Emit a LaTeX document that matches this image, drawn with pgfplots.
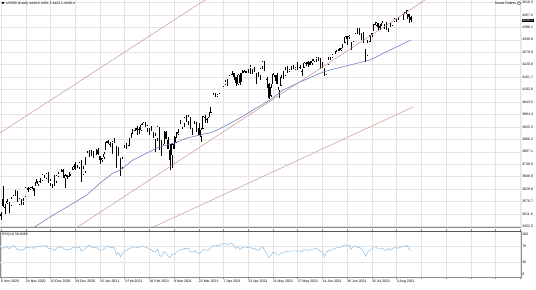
\documentclass[border=0pt]{standalone}
\usepackage{fontspec}
\setmainfont{Liberation Sans}
\usepackage{pgfplots}
\usepackage{pgfplotstable}
\pgfplotsset{compat=1.18}
\definecolor{gridc}{RGB}{228,228,228}
\definecolor{mac}{RGB}{105,120,190}
\definecolor{trendc}{RGB}{205,150,140}
\definecolor{rsic}{RGB}{150,195,230}
\definecolor{axc}{RGB}{140,140,140}
\newcommand\sm{\fontsize{3.5}{4}\selectfont}

\pgfplotstableread{
x o h l c r
0 3508 3521 3484 3509 62
1 3583 3646 3547 3550 66
2 3544 3557 3511 3545 65
3 3563 3581 3557 3572 68
4 3562 3569 3518 3537 63
5 3552 3593 3552 3585 67
6 3600 3628 3600 3627 71
7 3611 3624 3595 3610 67
8 3612 3619 3567 3568 60
9 3559 3586 3553 3582 62
10 3580 3582 3556 3557 59
11 3566 3589 3553 3577 61
12 3594 3642 3594 3635 67
13 3635 3638 3618 3629 66
14 3630 3641 3626 3636 67
15 3638 3644 3629 3638 67
16 3634 3637 3595 3621 64
17 3645 3678 3645 3662 68
18 3654 3670 3645 3669 69
19 3668 3682 3657 3666 68
20 3670 3699 3670 3699 71
21 3694 3698 3684 3692 70
22 3683 3708 3678 3702 71
23 3705 3712 3660 3673 64
24 3659 3678 3645 3668 63
25 3656 3665 3634 3663 62
26 3675 3698 3645 3647 59
27 3666 3695 3659 3695 65
28 3696 3712 3688 3702 66
29 3713 3726 3709 3722 68
30 3722 3726 3685 3709 65
31 3684 3703 3636 3695 62
32 3698 3698 3676 3687 61
33 3693 3711 3689 3690 61
34 3694 3703 3690 3703 63
35 3723 3740 3723 3735 67
36 3750 3757 3720 3727 65
37 3736 3744 3731 3732 66
38 3734 3760 3726 3756 68
39 3764 3770 3663 3701 57
40 3699 3738 3697 3726 61
41 3713 3783 3705 3748 64
42 3764 3811 3764 3804 70
43 3815 3827 3784 3825 72
44 3803 3817 3789 3799 66
45 3801 3811 3776 3801 66
46 3802 3820 3792 3810 67
47 3815 3823 3792 3795 64
48 3788 3789 3750 3768 59
49 3770 3780 3760 3775 60
50 3781 3805 3774 3798 63
51 3816 3860 3816 3852 69
52 3857 3861 3845 3853 69
53 3844 3853 3831 3841 66
54 3851 3859 3798 3855 67
55 3863 3871 3847 3849 66
56 3836 3836 3732 3751 48
57 3755 3830 3755 3788 54
58 3778 3778 3694 3714 43
59 3732 3784 3726 3774 52
60 3792 3839 3792 3826 58
61 3840 3848 3822 3830 59
62 3837 3872 3837 3872 63
63 3878 3894 3874 3887 65
64 3892 3915 3892 3915 67
65 3910 3919 3906 3911 67
66 3920 3931 3885 3910 66
67 3917 3925 3890 3916 67
68 3911 3937 3905 3934 69
69 3936 3950 3932 3945 70
70 3940 3950 3923 3933 67
71 3918 3933 3899 3931 66
72 3915 3921 3885 3913 62
73 3921 3931 3905 3907 61
74 3885 3902 3874 3876 55
75 3865 3895 3805 3881 56
76 3873 3928 3859 3925 62
77 3915 3925 3814 3829 46
78 3839 3862 3789 3811 44
79 3842 3904 3842 3901 56
80 3903 3906 3868 3870 52
81 3863 3875 3819 3820 46
82 3818 3843 3723 3768 40
83 3793 3851 3730 3842 50
84 3844 3881 3819 3821 48
85 3851 3903 3851 3875 54
86 3891 3917 3885 3898 57
87 3916 3960 3916 3939 61
88 3925 3944 3915 3943 61
89 3943 3970 3924 3969 64
90 3974 3982 3950 3963 63
91 3950 3984 3936 3974 64
92 3953 3970 3914 3915 55
93 3914 3922 3885 3913 55
94 3916 3955 3915 3940 58
95 3938 3949 3902 3911 54
96 3920 3942 3889 3889 51
97 3879 3919 3853 3910 54
98 3917 3978 3917 3975 61
99 3969 3981 3944 3971 61
100 3964 3968 3944 3959 59
101 3967 3994 3967 3973 61
102 3993 4021 3993 4020 66
103 4034 4084 4034 4078 71
104 4075 4087 4069 4074 70
105 4074 4083 4068 4080 71
106 4089 4098 4082 4097 72
107 4096 4129 4095 4129 75
108 4125 4131 4114 4128 75
109 4130 4148 4125 4142 76
110 4141 4151 4120 4125 72
111 4139 4173 4139 4170 76
112 4174 4191 4170 4185 77
113 4179 4180 4150 4163 71
114 4160 4164 4119 4135 64
115 4128 4175 4126 4173 68
116 4170 4179 4123 4135 61
117 4139 4195 4138 4180 66
118 4185 4194 4182 4188 67
119 4188 4193 4181 4187 67
120 4185 4201 4181 4183 66
121 4206 4218 4177 4211 68
122 4198 4199 4175 4181 63
123 4191 4210 4188 4192 64
124 4179 4179 4128 4165 60
125 4177 4188 4162 4168 60
126 4170 4202 4147 4202 64
127 4211 4238 4201 4233 68
128 4229 4237 4189 4189 59
129 4151 4162 4111 4152 52
130 4131 4135 4057 4063 40
131 4075 4131 4069 4113 47
132 4130 4183 4130 4174 54
133 4170 4172 4142 4163 53
134 4170 4179 4128 4128 48
135 4099 4117 4062 4116 47
136 4122 4172 4122 4160 53
137 4168 4189 4151 4156 52
138 4170 4210 4170 4197 57
139 4205 4213 4180 4188 56
140 4192 4202 4187 4196 57
141 4201 4213 4197 4201 57
142 4210 4218 4203 4204 58
143 4205 4212 4196 4208 58
144 4216 4234 4197 4202 57
145 4207 4218 4198 4208 58
146 4191 4198 4167 4192 55
147 4207 4234 4207 4230 61
148 4229 4232 4216 4227 60
149 4234 4236 4209 4227 60
150 4232 4237 4219 4220 59
151 4228 4249 4220 4239 62
152 4242 4249 4234 4247 63
153 4248 4255 4234 4255 64
154 4255 4257 4238 4247 62
155 4249 4252 4202 4224 56
156 4220 4233 4203 4222 56
157 4205 4206 4165 4166 43
158 4173 4226 4173 4224 55
159 4224 4255 4217 4246 59
160 4249 4256 4241 4242 58
161 4256 4272 4254 4266 62
162 4275 4287 4271 4281 64
163 4284 4292 4280 4291 66
164 4294 4301 4287 4291 66
165 4291 4302 4287 4298 67
166 4301 4321 4301 4320 70
167 4326 4355 4323 4352 73
168 4356 4357 4315 4344 70
169 4351 4361 4341 4358 72
170 4322 4330 4289 4320 62
171 4330 4372 4330 4370 68
172 4372 4386 4364 4385 70
173 4382 4393 4368 4369 66
174 4381 4393 4362 4375 67
175 4369 4369 4340 4360 63
176 4368 4376 4323 4327 56
177 4296 4297 4233 4259 44
178 4266 4336 4263 4323 55
179 4331 4359 4329 4359 60
180 4361 4369 4351 4368 62
181 4381 4415 4381 4412 67
182 4409 4422 4405 4422 68
183 4417 4417 4379 4401 63
184 4402 4415 4387 4400 63
185 4404 4429 4404 4419 65
186 4395 4412 4389 4395 61
187 4406 4422 4385 4387 59
188 4392 4423 4374 4423 64
189 4416 4418 4401 4402 60
190 4408 4429 4404 4429 64
191 4429 4440 4425 4437 66
192 4437 4439 4425 4433 65
193 4437 4446 4431 4436 65
194 4442 4449 4436 4447 67
195 4446 4461 4435 4460 69
196 4464 4468 4460 4468 70
197 4461 4480 4437 4479 72
198 4462 4462 4417 4448 63
199 4448.6 4451.2 4422.1 4430.4 58.9466
}\ohlc

\begin{document}
\begin{tikzpicture}
\useasboundingbox (0,0) rectangle (536bp,-290bp);
\fill[white] (0,0) rectangle (536bp,-290bp);

% ---------------- main price panel ----------------
\begin{axis}[
  at={(0,0)}, anchor=north west, scale only axis,
  width=521bp, height=227bp,
  xmin=-0.485, xmax=252.4, ymin=3450.1, ymax=4527.7,
  axis line style={draw=none},
  xtick={0,12,...,252}, xticklabels={},
  ytick={3452.5,3511.6,3570.7,3629.8,3688.9,3748.0,3807.1,3866.2,3925.3,3984.4,4043.5,4102.6,4161.7,4220.8,4279.9,4339.0,4398.1,4457.2,4516.3},
  yticklabels={3452.5,3511.6,3570.7,3629.8,3688.9,3748.0,3807.1,3866.2,3925.3,3984.4,4043.5,4102.6,4161.7,4220.8,4279.9,4339.0,4398.1,4457.2,4516.3},
  yticklabel pos=right,
  grid=major, major grid style={gridc, line width=0.4bp},
  tick style={draw=none},
  yticklabel style={font=\sm, anchor=west, xshift=0.5bp, inner sep=0.6bp},
  extra y ticks={4430.4}, extra y tick labels={4430.4},
  extra y tick style={grid=none, tick label style={fill=black, text=white}},
]
% wicks
\addplot[draw=none, mark=none, forget plot,
  error bars/.cd, y dir=both, y explicit, error mark=none,
  error bar style={draw=black, line width=0.45bp}]
  table[x=x, y expr={(\thisrow{h}+\thisrow{l})/2}, y error expr={(\thisrow{h}-\thisrow{l})/2}] {\ohlc};
% bear bodies
\addplot[draw=none, mark=none, forget plot, restrict y to domain=3000:6000,
  error bars/.cd, y dir=both, y explicit, error mark=none,
  error bar style={draw=black, line width=1.4bp}]
  table[x=x, y expr={(\thisrow{c}<\thisrow{o}) ? ((\thisrow{o}+\thisrow{c})/2) : (-1000)},
        y error expr={max(abs(\thisrow{c}-\thisrow{o})/2,0.8)}] {\ohlc};
% bull bodies: outline
\addplot[draw=none, mark=none, forget plot, restrict y to domain=3000:6000,
  error bars/.cd, y dir=both, y explicit, error mark=none,
  error bar style={draw=black, line width=1.4bp}]
  table[x=x, y expr={(\thisrow{c}<\thisrow{o}) ? (-1000) : ((\thisrow{o}+\thisrow{c})/2)},
        y error expr={abs(\thisrow{c}-\thisrow{o})/2+0.8}] {\ohlc};
% bull bodies: white inside
\addplot[draw=none, mark=none, forget plot, restrict y to domain=3000:6000,
  error bars/.cd, y dir=both, y explicit, error mark=none,
  error bar style={draw=white, line width=0.6bp}]
  table[x=x, y expr={(\thisrow{c}<\thisrow{o}) ? (-1000) : ((\thisrow{o}+\thisrow{c})/2)},
        y error expr={max(abs(\thisrow{c}-\thisrow{o})/2-1.2,0)}] {\ohlc};
% moving average
\addplot[mac, line width=0.55bp, mark=none] coordinates {
(14.1,3435.9) (23.8,3497.6) (32.0,3545.1) (41.7,3602.0) (48.1,3659.0)
(54.4,3706.5) (57.8,3720.7) (64.1,3768.2) (70.9,3801.4) (75.7,3825.1)
(80.6,3839.4) (85.4,3853.6) (90.3,3872.6) (96.6,3886.9) (102.9,3901.1)
(109.7,3934.3) (116.0,3967.5) (122.3,4005.5) (130.6,4053.0) (136.9,4100.5)
(145.1,4138.4) (156.3,4185.9) (159.7,4195.4) (169.4,4219.1) (179.1,4242.9)
(188.8,4290.2) (199.0,4337.8)};
% trend lines
\addplot[trendc, line width=0.5bp, mark=none] coordinates {(-0.49,3896.4) (110,4597.5)};
\addplot[trendc, line width=0.5bp, mark=none] coordinates {(20,3340.4) (210,4554.5)};
\addplot[trendc, line width=0.5bp, mark=none] coordinates {(68,3422.8) (200,4019.8)};
\draw[axc, line width=0.6bp] (rel axis cs:1,0) -- (rel axis cs:1,1);
\draw[axc, line width=0.6bp] (rel axis cs:0,0) -- (rel axis cs:1,0);
\end{axis}

% ---------------- RSI panel ----------------
\begin{axis}[
  at={(0,-231bp)}, anchor=north west, scale only axis,
  width=521bp, height=46bp,
  xmin=-0.485, xmax=252.4, ymin=-7.5, ymax=107.5,
  axis line style={axc, line width=0.6bp},
  xtick={0,12,...,252},
  xticklabels={6 Nov 2020,24 Nov 2020,10 Dec 2020,29 Dec 2020,15 Jan 2021,2 Feb 2021,18 Feb 2021,8 Mar 2021,22 Mar 2021,7 Apr 2021,23 Apr 2021,11 May 2021,27 May 2021,14 Jun 2021,30 Jun 2021,16 Jul 2021,3 Aug 2021,,,,,},
  xmajorgrids, major grid style={gridc, line width=0.4bp},
  xtick align=outside, major tick length=2bp,
  xtick style={draw=axc, line width=0.4bp},
  ytick style={draw=none},
  ytick={0,30,70,100}, yticklabels={0,30,70,100},
  yticklabel pos=right,
  yticklabel style={font=\sm, anchor=west, xshift=0.5bp, inner sep=0.6bp},
  xticklabel style={font=\sm, anchor=north west, inner sep=0.6bp, xshift=-0.6bp},
]
\draw[gridc, line width=0.4bp] (axis cs:-0.485,30) -- (axis cs:252.4,30);
\draw[gridc, line width=0.4bp] (axis cs:-0.485,70) -- (axis cs:252.4,70);
\addplot[rsic, line width=0.55bp, mark=none] table[x=x, y=r] {\ohlc};
\draw[black!65, line width=1.1bp] (rel axis cs:0,1) -- (rel axis cs:1,1);
\end{axis}

% ---------------- texts ----------------
\fill[black] (1.5bp,-2.2bp) -- (4.5bp,-2.2bp) -- (3bp,-4.4bp) -- cycle;
\node[anchor=north west, inner sep=0pt, font=\sm] at (6bp,-1.4bp) {US500 (Cash) 4448.6 4451.2 4422.1 4430.4};
\node[anchor=north east, inner sep=0pt, font=\sm] at (516bp,-1.4bp) {Smart Orders};
\draw[black!70, line width=0.4bp] (519bp,-3.3bp) circle (1.8bp);
\node[anchor=north west, inner sep=0pt, font=\sm] at (2bp,-233.2bp) {RSI(14) 58.9466};
\end{tikzpicture}
\end{document}
